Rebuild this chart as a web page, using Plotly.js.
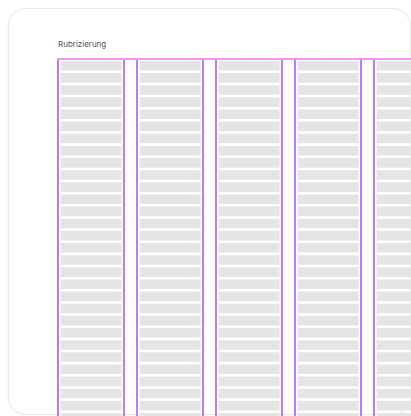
<!DOCTYPE html>
<html>
<head>
<meta charset="utf-8">
<script src="https://cdn.plot.ly/plotly-3.0.1.min.js"></script>
<style>
  html, body { margin: 0; padding: 0; background: #ffffff; width: 411px; height: 416px; overflow: hidden; }
  #card { position: absolute; left: 8px; top: 8px; width: 401px; height: 405px; border: 1px solid #e9e9e9; border-radius: 18px; background: #ffffff; box-shadow: 0 1px 4px rgba(0,0,0,0.04); }
  #chart { position: absolute; left: 0; top: 0; width: 411px; height: 416px; }
</style>
</head>
<body>
<div id="card"></div>
<div id="chart"></div>
<script>
// ---- data ----
const titleText = 'Rubrizierung';
const columns = ['Spalte 1', 'Spalte 2', 'Spalte 3', 'Spalte 4', 'Spalte 5'];
const rows = [0, 1, 2, 3, 4, 5, 6, 7, 8, 9, 10, 11, 12, 13, 14, 15, 16, 17, 18, 19, 20, 21, 22, 23, 24, 25, 26, 27, 28, 29];
const rowFill = [1, 1, 1, 1, 1, 1, 1, 1, 1, 1, 1, 1, 1, 1, 1, 1, 1, 1, 1, 1, 1, 1, 1, 1, 1, 1, 1, 1, 1, 1];

// ---- layout / style constants ----
const COL_PX = 79;            // column pitch in pixels
const ROW_PX = 12.14;         // row pitch in pixels
const colWidth = 66 / COL_PX; // column frame width (in column units)
const barInset = 2.6 / COL_PX;
const barLen = 61 / COL_PX;
const barThick = 9.6 / ROW_PX;
const W = 411, H = 416, ML = 57, MT = 60;
const xStart = -1 / COL_PX;
const xRange = [xStart, xStart + (W - ML) / COL_PX];
const yTop = -0.47;
const yRange = [yTop + (H - MT) / ROW_PX, yTop];
const barColor = '#e5e5e5';
const lineColor = '#b56cff';
const topColor = '#f590ff';

const traces = [];
columns.forEach((c, i) => {
  traces.push({
    type: 'bar', orientation: 'h', name: c,
    y: rows, x: rowFill.map(v => v * barLen), base: i + barInset,
    width: barThick, marker: { color: barColor, line: { width: 0 } },
    hoverinfo: 'skip', showlegend: false
  });
});
columns.forEach((c, i) => {
  [i, i + colWidth].forEach(edge => {
    traces.push({
      type: 'scatter', mode: 'lines', x: [edge, edge], y: [yRange[0], yRange[1]],
      line: { color: lineColor, width: 1.8 }, hoverinfo: 'skip', showlegend: false
    });
  });
});

const layout = {
  width: W, height: H,
  margin: { l: ML, r: 0, t: MT, b: 0, pad: 0 },
  paper_bgcolor: 'rgba(0,0,0,0)', plot_bgcolor: 'rgba(0,0,0,0)',
  barmode: 'overlay',
  title: {
    text: titleText, xref: 'paper', x: 1 / (W - ML), xanchor: 'left',
    yref: 'container', y: 1 - 44 / H, yanchor: 'middle',
    font: { family: 'Inter, "DejaVu Sans", sans-serif', size: 8, color: '#555555' }
  },
  xaxis: {
    range: xRange, showgrid: false, zeroline: false, showticklabels: false, ticks: '',
    showline: true, side: 'top', linecolor: topColor, linewidth: 2, fixedrange: true
  },
  yaxis: {
    range: yRange, showgrid: false, zeroline: false, showticklabels: false, ticks: '',
    showline: false, fixedrange: true
  },
  showlegend: false
};

Plotly.newPlot('chart', traces, layout, { displayModeBar: false, staticPlot: true });
</script>
</body>
</html>
